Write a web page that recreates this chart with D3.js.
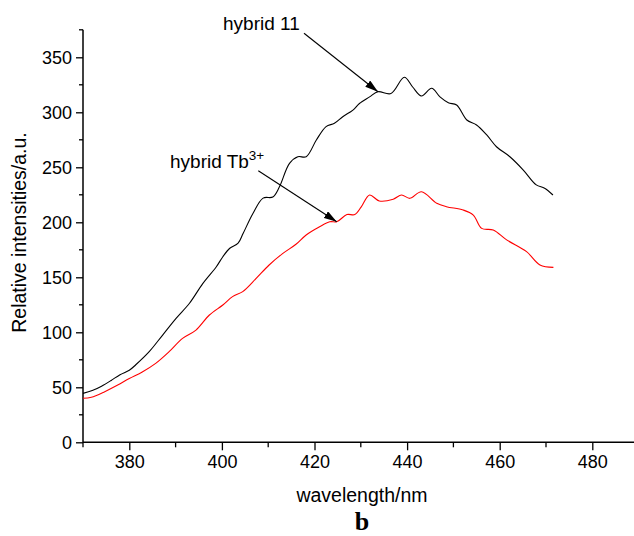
<!DOCTYPE html>
<html>
<head>
<meta charset="utf-8">
<script src="https://cdn.jsdelivr.net/npm/d3@7"></script>
<style>
  html, body { margin: 0; padding: 0; background: #fff; }
  svg { display: block; font-family: "Liberation Sans", Arial, sans-serif; }
</style>
</head>
<body>
<svg id="chart" width="634" height="536"></svg>
<script>
// ---- data ----
const hybrid11Wavelength = [370, 372, 374, 376, 378, 380, 381.4, 384.3, 387.2, 390.1, 393, 395.9, 398.8, 400.2, 401.7, 403.5, 404.6, 406.7, 408.9, 411, 412.4, 414.6, 416.4, 418.2, 420.4, 422.5, 424.3, 426.1, 428.3, 429.7, 431.9, 433.7, 436.5, 439.4, 441.2, 443.1, 445.3, 447.1, 448.9, 450.7, 452.9, 455, 457.2, 459.3, 462.2, 465.1, 467.9, 469.7, 471.5];
const hybrid11Intensity = [44.5, 47, 51, 56, 61.5, 65.5, 70.5, 82.4, 97.5, 112.7, 126.4, 144.5, 159.6, 168.7, 176.4, 181, 190, 208, 222, 223, 232, 253.6, 259.6, 259.6, 274.8, 287, 290, 296, 302, 308, 314, 318.7, 317, 331.8, 323, 314.8, 321.8, 314, 308.7, 306.6, 293, 288.5, 279.4, 268.7, 259.6, 247.5, 234, 231, 224.8];

const hybridTbWavelength = [370, 371.8, 374.7, 377.5, 380, 382.8, 385.7, 388.6, 391.5, 394.4, 397.3, 400.2, 402.3, 404.5, 407.4, 410.2, 413.1, 416, 418.2, 421.1, 423.3, 424.8, 427, 428.7, 430.1, 431.9, 434, 437, 438.8, 440.6, 443.1, 446.4, 448.5, 452.1, 454.3, 456.1, 458.6, 461.5, 465.8, 468.7, 471.6];
const hybridTbIntensity = [40, 40.9, 46, 52, 58, 64, 71.8, 82.4, 94.5, 102, 115.7, 124.8, 132.4, 137, 149, 161.2, 171.5, 180, 188.5, 196, 200.5, 200.5, 207, 207, 214, 224.8, 219.4, 221, 224.8, 221.8, 227.8, 217.3, 214.2, 211.2, 206.6, 194.5, 193, 184, 173.3, 161.2, 159];

const xMajorTicks = [380, 400, 420, 440, 460, 480];
const xMinorTicks = [370, 390, 410, 430, 450, 470, 490];
const yMajorTicks = [0, 50, 100, 150, 200, 250, 300, 350];
const yMinorTicks = [25, 75, 125, 175, 225, 275, 325, 375];

// annotations: arrow tips point at these (wavelength, intensity)
const annot11 = { text: "hybrid 11", pointX: 433.7, pointY: 318.7 };
const annotTb = { text: "hybrid Tb", sup: "3+", pointX: 424.8, pointY: 200.5 };

// ---- drawing ----
const svg = d3.select("#chart");
svg.append("rect").attr("width", 634).attr("height", 536).attr("fill", "#fff");

const x = d3.scaleLinear().domain([370, 490]).range([83, 638.6]);
const y = d3.scaleLinear().domain([0, 375]).range([442.3, 29.8]);

const axisColor = "#000";

// y axis
const gy = svg.append("g").attr("transform", "translate(83,0)");
gy.call(d3.axisLeft(y).tickValues(yMajorTicks).tickSize(7).tickSizeOuter(0).tickPadding(4))
  .call(g => g.select(".domain").remove());
gy.selectAll(".tick text").attr("font-size", 18).attr("fill", "#000").attr("font-family", "Liberation Sans, Arial, sans-serif");
gy.selectAll(".tick line").attr("stroke", axisColor).attr("stroke-width", 1.3);
gy.selectAll(".minor").data(yMinorTicks).enter().append("line")
  .attr("x1", -4).attr("x2", 0).attr("y1", d => y(d)).attr("y2", d => y(d))
  .attr("stroke", axisColor).attr("stroke-width", 1.3);
gy.append("line").attr("x1", 0).attr("x2", 0).attr("y1", y(0)).attr("y2", y(375))
  .attr("stroke", axisColor).attr("stroke-width", 1.5);

// x axis
const gx = svg.append("g").attr("transform", `translate(0,${y(0)})`);
gx.call(d3.axisBottom(x).tickValues(xMajorTicks).tickSize(8).tickSizeOuter(0).tickPadding(5))
  .call(g => g.select(".domain").remove());
gx.selectAll(".tick text").attr("font-size", 18).attr("fill", "#000").attr("font-family", "Liberation Sans, Arial, sans-serif");
gx.selectAll(".tick line").attr("stroke", axisColor).attr("stroke-width", 1.3);
gx.selectAll(".minor").data(xMinorTicks).enter().append("line")
  .attr("x1", d => x(d)).attr("x2", d => x(d)).attr("y1", 0).attr("y2", 5)
  .attr("stroke", axisColor).attr("stroke-width", 1.3);
gx.append("line").attr("x1", x(370)).attr("x2", 640).attr("y1", 0).attr("y2", 0)
  .attr("stroke", axisColor).attr("stroke-width", 1.5);

// axis titles
svg.append("text").attr("transform", "translate(26,232.5) rotate(-90)")
  .attr("text-anchor", "middle").attr("font-size", 19.5).text("Relative intensities/a.u.");
svg.append("text").attr("x", 362).attr("y", 502).attr("text-anchor", "middle")
  .attr("font-size", 19.5).text("wavelength/nm");
svg.append("text").attr("x", 362).attr("y", 530).attr("text-anchor", "middle")
  .attr("font-size", 26).attr("font-weight", "bold")
  .attr("font-family", "Liberation Serif, Times New Roman, serif").text("b");

// curves
const line = d3.line().x(d => x(d[0])).y(d => y(d[1])).curve(d3.curveCatmullRom.alpha(0.5));
const data11 = hybrid11Wavelength.map((w, i) => [w, hybrid11Intensity[i]]);
const dataTb = hybridTbWavelength.map((w, i) => [w, hybridTbIntensity[i]]);
svg.append("path").datum(data11).attr("d", line).attr("fill", "none").attr("stroke", "#000").attr("stroke-width", 1.1);
svg.append("path").datum(dataTb).attr("d", line).attr("fill", "none").attr("stroke", "#ff0000").attr("stroke-width", 1.1);

// annotations
const defs = svg.append("defs");
defs.append("marker").attr("id", "arrow").attr("viewBox", "0 0 13 8").attr("refX", 13).attr("refY", 4)
  .attr("markerWidth", 13).attr("markerHeight", 8).attr("markerUnits", "userSpaceOnUse").attr("orient", "auto")
  .append("path").attr("d", "M0,0 L13,4 L0,8 Z").attr("fill", "#000");

svg.append("text").attr("x", 223).attr("y", 30).attr("font-size", 19).text(annot11.text);
svg.append("line").attr("x1", 304).attr("y1", 33.3).attr("x2", x(annot11.pointX)).attr("y2", y(annot11.pointY))
  .attr("stroke", "#000").attr("stroke-width", 1.1).attr("marker-end", "url(#arrow)");

const tbText = svg.append("text").attr("x", 170).attr("y", 168).attr("font-size", 19);
tbText.append("tspan").text(annotTb.text);
tbText.append("tspan").attr("dy", -8).attr("font-size", 13.5).text(annotTb.sup);
svg.append("line").attr("x1", 258.3).attr("y1", 170.7).attr("x2", x(annotTb.pointX)).attr("y2", y(annotTb.pointY))
  .attr("stroke", "#000").attr("stroke-width", 1.1).attr("marker-end", "url(#arrow)");
</script>
</body>
</html>
